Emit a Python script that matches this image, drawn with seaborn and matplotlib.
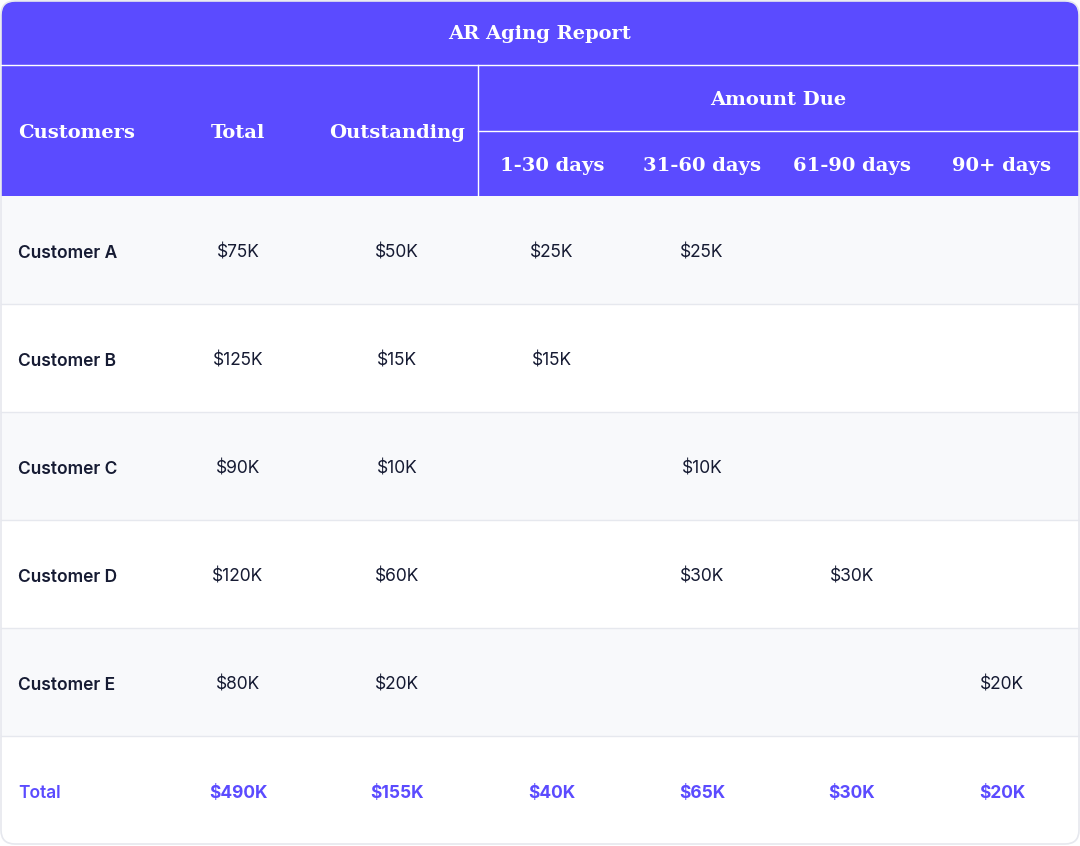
import matplotlib
matplotlib.use("Agg")
import matplotlib.pyplot as plt
from matplotlib.patches import FancyBboxPatch, Rectangle
from matplotlib.colors import ListedColormap
import seaborn as sns
import numpy as np

title = "AR Aging Report"
customers = ["Customer A", "Customer B", "Customer C", "Customer D", "Customer E"]
total = ["$75K", "$125K", "$90K", "$120K", "$80K"]
outstanding = ["$50K", "$15K", "$10K", "$60K", "$20K"]
d1_30 = ["$25K", "$15K", "", "", ""]
d31_60 = ["$25K", "", "$10K", "$30K", ""]
d61_90 = ["", "", "", "$30K", ""]
d90p = ["", "", "", "", "$20K"]
totals_row = ["$490K", "$155K", "$40K", "$65K", "$30K", "$20K"]
bucket_labels = ["1-30 days", "31-60 days", "61-90 days", "90+ days"]

W, H = 1080, 846
PURPLE = "#5B4BFF"
DARK = "#161B33"
LINE = "#E6E8EE"
fig = plt.figure(figsize=(W/100, H/100), dpi=100)

bg = np.array([[1], [0], [1], [0], [1], [0]])
axb = fig.add_axes([1/W, 2/H, 1078/W, 648/H])
sns.heatmap(bg, ax=axb, cmap=ListedColormap(["#FFFFFF", "#F8F9FB"]), cbar=False,
            xticklabels=False, yticklabels=False, linewidths=0)
axb.axis("off")

ax = fig.add_axes([0, 0, 1, 1], facecolor="none")
ax.set_xlim(0, W); ax.set_ylim(H, 0); ax.axis("off")

ax.add_patch(FancyBboxPatch((1, 1), 1078, 195, boxstyle="round,pad=0,rounding_size=14",
                            fc=PURPLE, ec="none"))
ax.add_patch(Rectangle((1, 120), 1078, 76, fc=PURPLE, ec="none"))
ax.plot([1, 1079], [65, 65], color="white", lw=1)
ax.plot([478, 478], [65, 196], color="white", lw=1)
ax.plot([478, 1079], [131, 131], color="white", lw=1)
ax.add_patch(FancyBboxPatch((1, 1), 1078, 843, boxstyle="round,pad=0,rounding_size=14",
                            fc="none", ec=LINE, lw=1.2))

hs = dict(color="white", fontsize=14, family="DejaVu Serif", fontweight="bold", va="center")
ax.text(540, 34, title, ha="center", **hs)
ax.text(18, 133, "Customers", ha="left", **hs)
ax.text(238, 133, "Total", ha="center", **hs)
ax.text(397, 133, "Outstanding", ha="center", **hs)
ax.text(778, 100, "Amount Due", ha="center", **hs)
xs = [552, 702, 852, 1002]
for x, lab in zip(xs, bucket_labels):
    ax.text(x, 166, lab, ha="center", **hs)

cols = [total, outstanding, d1_30, d31_60, d61_90, d90p]
cx = [238, 397] + xs
for i, name in enumerate(customers):
    y = 196 + 108 * i + 57
    if i > 0:
        ax.plot([1, 1079], [196 + 108 * i] * 2, color=LINE, lw=1)
    ax.text(18, y, name, ha="left", va="center", fontsize=12.5, family="Inter",
            fontweight="semibold", color=DARK)
    for x, col in zip(cx, cols):
        ax.text(x, y, col[i], ha="center", va="center", fontsize=12.5, family="Inter", color=DARK)
ax.plot([1, 1079], [736, 736], color=LINE, lw=1)
y = 793
ax.text(18, y, "Total", ha="left", va="center", fontsize=12.5, family="Inter",
        fontweight="semibold", color=PURPLE)
for x, v in zip(cx, totals_row):
    ax.text(x, y, v, ha="center", va="center", fontsize=12.5, family="Inter",
            fontweight="bold", color=PURPLE)

fig.savefig("out.png", dpi=100)
